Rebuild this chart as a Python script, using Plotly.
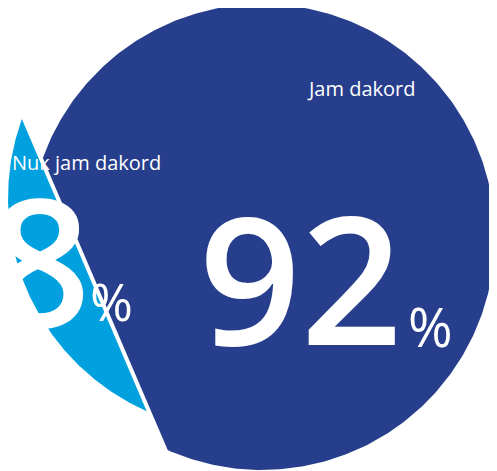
import numpy as np
import plotly.graph_objects as go

# ---- data ----
labels = ["Jam dakord", "Nuk jam dakord"]
shares = [92, 8]
colors = ["#263E8C", "#00A1DE"]

# ---- style / layout parameters ----
W, H = 497, 471
OFF = 8                                   # page body margin
CX, CY, R = 262.0, 237.0, 233.0          # circle centre and radius (plot units = px)
MID_DEG = 156.85                          # direction of the cut-out segment (screen angle, y down)
SLIDE = -44.0                             # slide of the detached piece along the chord
GAP = 4.0                                 # outward gap of the detached piece
FONT = "Open Sans"


def seg_half_angle(frac):
    """half-angle of a circular segment whose area is `frac` of the disc"""
    lo, hi = 0.0, np.pi
    target = np.pi * frac
    for _ in range(80):
        mid = (lo + hi) / 2
        if mid - np.sin(2 * mid) / 2 < target:
            lo = mid
        else:
            hi = mid
    return (lo + hi) / 2


small = shares[1] / sum(shares)
th = seg_half_angle(small)
mid = np.radians(MID_DEG)

# big piece: long arc, closed by the chord
a_big = np.linspace(mid + th, mid + 2 * np.pi - th, 400)
xb = CX + R * np.cos(a_big)
yb = CY + R * np.sin(a_big)
xb = np.append(xb, xb[0])
yb = np.append(yb, yb[0])

# small piece: short arc, closed by chord, then detached
a_sm = np.linspace(mid - th, mid + th, 200)
xs = CX + R * np.cos(a_sm)
ys = CY + R * np.sin(a_sm)
p1 = np.array([xs[0], ys[0]])
p2 = np.array([xs[-1], ys[-1]])
chord = (p1 - p2) / np.linalg.norm(p1 - p2)     # points downward along chord
outward = np.array([np.cos(mid), np.sin(mid)])
shift = SLIDE * chord + GAP * outward
xs = np.append(xs, xs[0]) + shift[0]
ys = np.append(ys, ys[0]) + shift[1]

fig = go.Figure()
fig.add_trace(go.Scatter(x=xb, y=yb, mode="lines", fill="toself",
                         fillcolor=colors[0], line=dict(width=0, color=colors[0]),
                         hoverinfo="skip", name=labels[0]))
fig.add_trace(go.Scatter(x=xs, y=ys, mode="lines", fill="toself",
                         fillcolor=colors[1], line=dict(width=0, color=colors[1]),
                         hoverinfo="skip", name=labels[1]))

def ann(x, y, text, size, weight="normal"):
    fig.add_annotation(x=x, y=y, xref="x", yref="y", text=text, showarrow=False,
                       xanchor="center", yanchor="middle",
                       font=dict(family=FONT, size=size, color="white", weight=weight))

ann(361, 88, labels[0], 20)
ann(86, 162, labels[1], 20)
ann(301, 276, f"{shares[0]}", 178, 600)
ann(430, 326, "%", 54)
ann(40, 258, f"{shares[1]}", 178, 600)
ann(111, 300, "%", 52)

fig.update_layout(
    width=W - OFF, height=H - OFF, autosize=False,
    margin=dict(l=0, r=0, t=0, b=0),
    paper_bgcolor="white", plot_bgcolor="white",
    showlegend=False,
    xaxis=dict(range=[OFF, W], visible=False, fixedrange=True),
    yaxis=dict(range=[H, OFF], visible=False, fixedrange=True),
)

fig.write_html("out.html")
